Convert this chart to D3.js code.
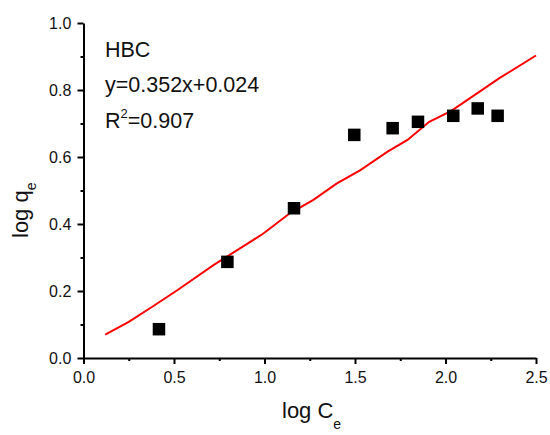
<!DOCTYPE html>
<html>
<head>
<meta charset="utf-8">
<script src="https://cdn.jsdelivr.net/npm/d3@7"></script>
<style>
  html, body { margin: 0; padding: 0; background: #fff; }
  svg { display: block; font-family: "Liberation Sans", Arial, sans-serif; }
</style>
</head>
<body>
<svg id="chart" width="550" height="435"></svg>
<script>
// Freundlich isotherm (log form) for HBC
const logCe = [0.417, 0.795, 1.163, 1.496, 1.708, 1.848, 2.043, 2.178, 2.288];
const logQe = [0.086, 0.287, 0.447, 0.666, 0.686, 0.705, 0.723, 0.745, 0.723];

// fitted line as exported
const fitX = [0.12, 0.25, 0.38, 0.52, 0.72, 0.99, 1.14, 1.27, 1.40, 1.53, 1.68, 1.79, 1.91, 2.03, 2.30, 2.50];
const fitY = [0.070, 0.108, 0.153, 0.203, 0.278, 0.370, 0.432, 0.472, 0.521, 0.561, 0.616, 0.651, 0.705, 0.737, 0.836, 0.903];

const xMajor = [0, 0.5, 1.0, 1.5, 2.0, 2.5];
const xMinor = [0.25, 0.75, 1.25, 1.75, 2.25];
const yMajor = [0, 0.2, 0.4, 0.6, 0.8, 1.0];
const yMinor = [0.1, 0.3, 0.5, 0.7, 0.9];

const svg = d3.select("#chart");
const x = d3.scaleLinear().domain([0, 2.5]).range([83.5, 536]);
const y = d3.scaleLinear().domain([0, 1.0]).range([358, 23]);

// bottom axis
const gx = svg.append("g").attr("transform", `translate(0,${y(0)})`);
gx.call(d3.axisBottom(x).tickValues(xMajor).tickFormat(d3.format(".1f")).tickSize(6).tickSizeOuter(0));
gx.append("g").call(d3.axisBottom(x).tickValues(xMinor).tickFormat("").tickSize(3).tickSizeOuter(0))
  .select(".domain").remove();

// left axis
const gy = svg.append("g").attr("transform", `translate(${x(0)},0)`);
gy.call(d3.axisLeft(y).tickValues(yMajor).tickFormat(d3.format(".1f")).tickSize(6).tickSizeOuter(0));
gy.append("g").call(d3.axisLeft(y).tickValues(yMinor).tickFormat("").tickSize(3).tickSizeOuter(0))
  .select(".domain").remove();

svg.selectAll(".domain").attr("stroke", "#000").attr("stroke-width", 2);
svg.selectAll(".tick line").attr("stroke", "#000").attr("stroke-width", 2);
svg.selectAll(".tick text").attr("fill", "#111").attr("font-size", 16)
  .attr("font-family", "Liberation Sans, Arial, sans-serif");
gx.selectAll(".tick text").attr("dy", "1.0em");
gy.selectAll(".tick text").attr("dx", "-0.2em");

// fitted line
svg.append("path")
  .datum(fitX.map((v, i) => [v, fitY[i]]))
  .attr("fill", "none")
  .attr("stroke", "#ff0000")
  .attr("stroke-width", 2)
  .attr("d", d3.line().x(d => x(d[0])).y(d => y(d[1])));

// data points
const s = 12.5;
svg.selectAll("rect.pt")
  .data(logCe.map((v, i) => [v, logQe[i]]))
  .join("rect")
  .attr("class", "pt")
  .attr("x", d => x(d[0]) - s / 2)
  .attr("y", d => y(d[1]) - s / 2)
  .attr("width", s)
  .attr("height", s)
  .attr("fill", "#000");

// annotation
const ann = svg.append("g").attr("font-size", 21.5).attr("fill", "#111");
ann.append("text").attr("x", 105).attr("y", 57).text("HBC");
ann.append("text").attr("x", 105).attr("y", 92).text("y=0.352x+0.024");
const r2 = ann.append("text").attr("x", 105).attr("y", 128);
r2.append("tspan").text("R");
r2.append("tspan").attr("font-size", 13).attr("dy", -10).text("2");
r2.append("tspan").attr("dy", 10).text("=0.907");

// axis titles
const xt = svg.append("text").attr("x", 282).attr("y", 418).attr("font-size", 22).attr("fill", "#111");
xt.append("tspan").text("log C");
xt.append("tspan").attr("font-size", 14).attr("dy", 11).text("e");

const yt = svg.append("text")
  .attr("transform", "translate(28,238) rotate(-90)")
  .attr("font-size", 22).attr("fill", "#111");
yt.append("tspan").text("log q");
yt.append("tspan").attr("font-size", 14).attr("dy", 8).text("e");
</script>
</body>
</html>
